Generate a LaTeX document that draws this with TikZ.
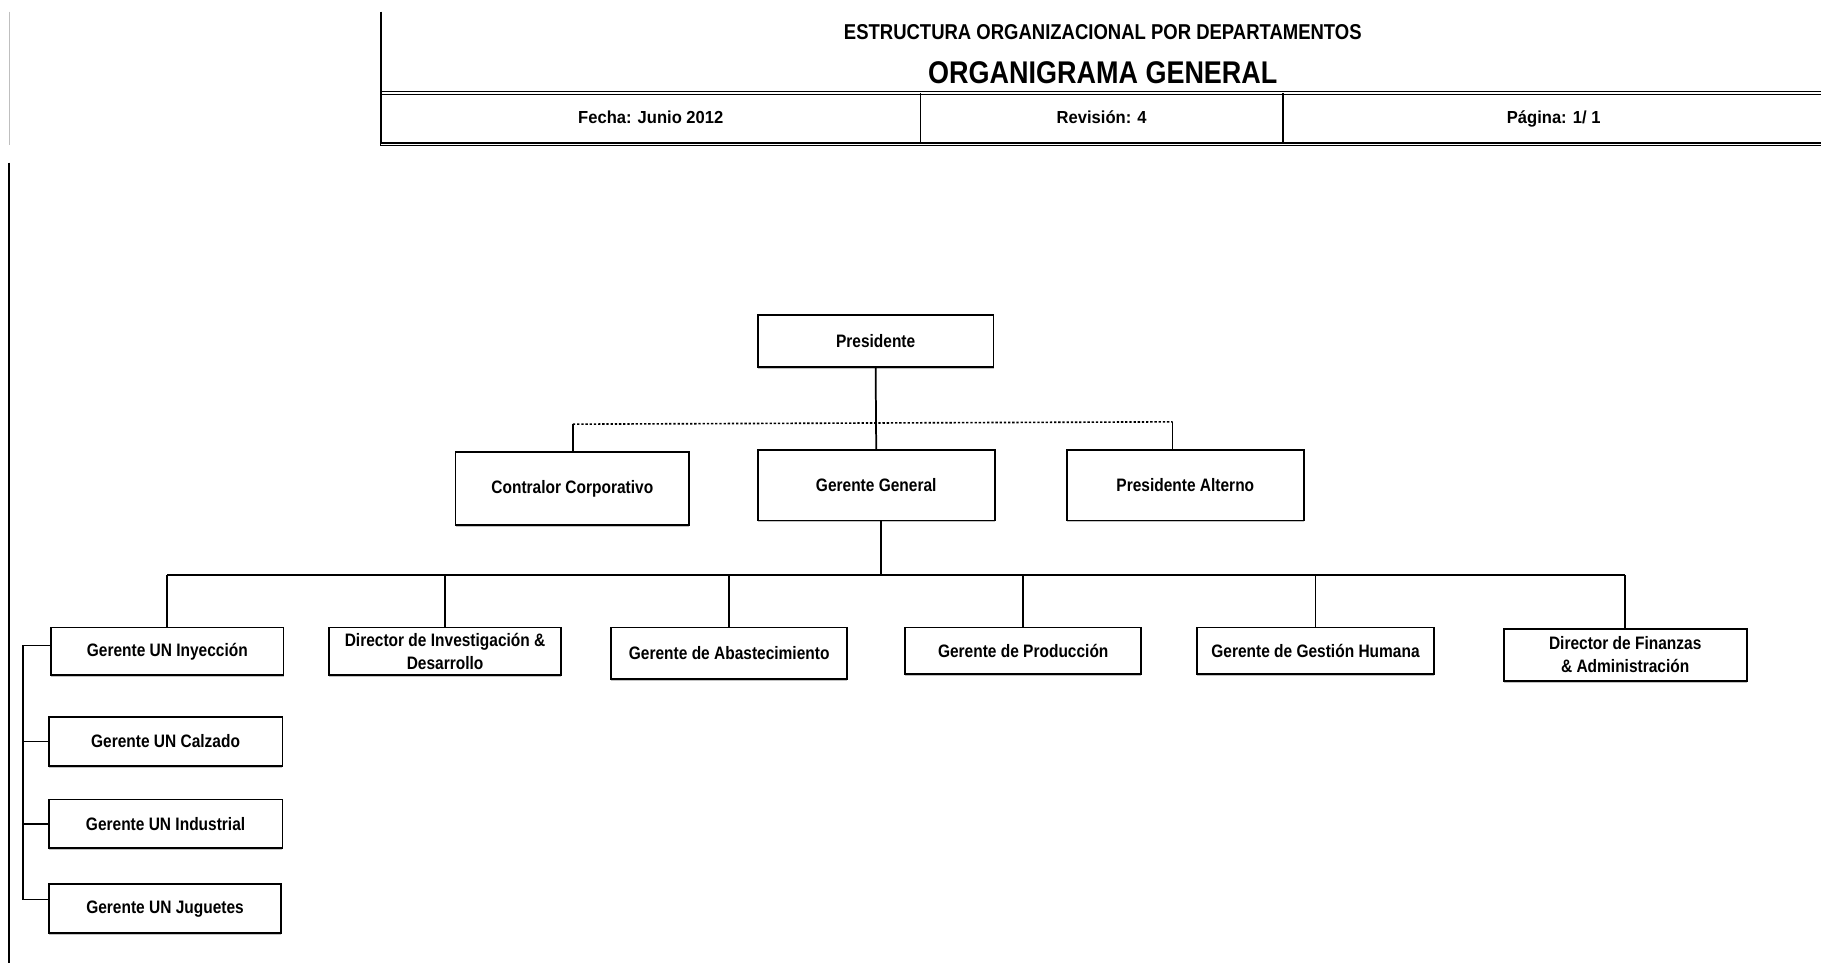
\documentclass[tikz,border=0pt]{standalone}
\usepackage{fontspec}
\setmainfont{Liberation Sans}
\newfontfamily\nar[FakeStretch=0.86]{Liberation Sans}
\newfontfamily\hdr[FakeStretch=0.86]{Liberation Sans}
\newfontfamily\hdrw[FakeStretch=0.95]{Liberation Sans}
\usetikzlibrary{shadows}
\begin{document}
\begin{tikzpicture}[x=1pt,y=-1pt,
  box/.style={draw,line width=1.5pt,fill=white,align=center,inner sep=0pt,
    font=\nar\bfseries\fontsize{15.5}{20}\selectfont,
    drop shadow={shadow xshift=0pt,shadow yshift=-1.6pt,fill=black!40,opacity=0.6}},
  conn/.style={line width=1.5pt},
  hline/.style={line width=1.3pt},
  hlab/.style={anchor=base,font=\hdrw\bfseries\fontsize{15}{17}\selectfont},
  dot/.style={line width=1.4pt,dash pattern=on 2pt off 1.6pt}]
\useasboundingbox (0,0) rectangle (1567,829);
% page frame lines
\draw[black!25,line width=1pt] (8,10) -- (8,125);
\draw[line width=1.5pt] (8,140) -- (8,829);
% header
\draw[line width=2.2pt] (328,10) -- (328,126);
\draw[hline,double,double distance=1pt] (329,80) -- (1567,80);
\draw[hline,double,double distance=1pt] (328,124) -- (1567,124);
\draw[hline] (792,80) -- (792,123);
\draw[hline] (1104,80) -- (1104,123);
\node[anchor=base] (t1) at (949,34) {\hdr\bfseries\fontsize{18.5}{20}\selectfont ESTRUCTURA ORGANIZACIONAL POR DEPARTAMENTOS};
\node[anchor=base] (t2) at (949,72) {\hdr\bfseries\fontsize{27}{30}\selectfont ORGANIGRAMA GENERAL};
\node[hlab] (t3) at (560,106) {Fecha: Junio 2012};
\node[hlab] (t4) at (948,106) {Revisión: 4};
\node[hlab] (t5) at (1337,106) {Página: 1/ 1};
% top level
\node[box,minimum width=203pt,minimum height=45pt] (pres) at (753.5,293.5) {Presidente};
\node[box,minimum width=201pt,minimum height=63pt] (con) at (492.5,420.5) {Contralor Corporativo};
\node[box,minimum width=204pt,minimum height=61pt] (gg) at (754,417.5) {Gerente General};
\node[box,minimum width=204pt,minimum height=61pt] (alt) at (1020,417.5) {Presidente Alterno};
\coordinate (dl) at (493,365);
\coordinate (dr) at (1009,363);
\draw[conn] (pres.south) -- (gg.north);
\draw[dot] (dl) -- (dr);
\draw[conn] (con.north -| dl) -- (dl);
\draw[conn] (alt.north -| dr) -- (dr);
% second row
\node[box,minimum width=200pt,minimum height=41pt] (iny) at (144,560.5) {Gerente UN Inyección};
\node[box,minimum width=200pt,minimum height=41pt] (inv) at (383,560.5) {Director de Investigación \&\\Desarrollo};
\node[box,minimum width=203pt,minimum height=44pt] (aba) at (627.5,562) {Gerente de Abastecimiento};
\node[box,minimum width=203pt,minimum height=40pt] (pro) at (880.5,560) {Gerente de Producción};
\node[box,minimum width=204pt,minimum height=40pt] (ges) at (1132,560) {Gerente de Gestión Humana};
\node[box,minimum width=209pt,minimum height=45pt] (fin) at (1398.5,563.5) {Director de Finanzas\\\& Administración};
\coordinate (bus) at (0,495);
\draw[conn] (gg.south -| 758,0) -- (bus -| 758,0);
\draw[conn] (iny.north |- bus) -- (fin.north |- bus);
\foreach \n in {iny,inv,aba,pro,ges,fin} \draw[conn] (\n.north) -- (\n.north |- bus);
% left column
\node[box,minimum width=201pt,minimum height=42pt] (cal) at (142.5,638) {Gerente UN Calzado};
\node[box,minimum width=201pt,minimum height=42pt] (ind) at (142.5,709) {Gerente UN Industrial};
\node[box,minimum width=200pt,minimum height=42pt] (jug) at (142,782) {Gerente UN Juguetes};
\coordinate (spine) at (20,0);
\draw[conn] ([yshift=5pt]iny.west) -- ([yshift=5pt]iny.west -| spine) -- ([yshift=8pt]jug.west -| spine) -- ([yshift=8pt]jug.west);
\draw[conn] (cal.west) -- (cal.west -| spine);
\draw[conn] (ind.west) -- (ind.west -| spine);
\end{tikzpicture}
\end{document}
